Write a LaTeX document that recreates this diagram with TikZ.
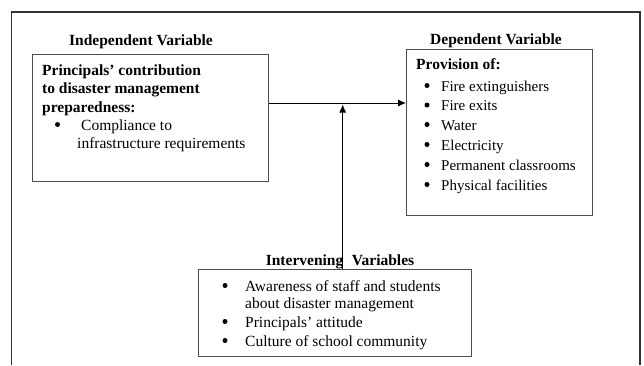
\documentclass[tikz,border=0pt]{standalone}
\usepackage{fontspec}
\setmainfont{Liberation Serif}
\usetikzlibrary{arrows.meta,calc}
\begin{document}
\begin{tikzpicture}[x=1pt,y=-1pt,
  box/.style={draw=black!70,line width=0.9pt,inner sep=0,anchor=north west},
  txt/.style={inner sep=0,anchor=base west,font=\fontsize{15.5}{18}\selectfont},
  txtd/.style={inner sep=0,anchor=base west,font=\fontsize{15}{18}\selectfont},
  bld/.style={inner sep=0,anchor=base west,font=\fontsize{15.5}{18}\selectfont\bfseries},
  ttl/.style={inner sep=0,anchor=base,font=\fontsize{15.5}{18}\selectfont\bfseries},
  dot/.style={circle,fill=black,inner sep=0,minimum size=5pt},
  conn/.style={line width=0.9pt,-{Latex[length=8pt,width=7pt]}}]
\useasboundingbox (0,0) rectangle (644,365);
% outer frame
\draw[line width=1.1pt,black!80] (11.5,365) -- (11.5,12) -- (640,12) -- (640,365);
% boxes
\node[box,minimum width=236.5pt,minimum height=127pt] (indep) at (31.5,54) {};
\node[box,minimum width=186pt,minimum height=166pt] (dep) at (406,49) {};
\node[box,minimum width=273pt,minimum height=87pt] (interv) at (198,269) {};
% titles
\node[ttl] (tI) at (141,45) {Independent Variable};
\node[ttl] (tD) at (496,44) {Dependent Variable};
\node[ttl] (tV) at (340,265) {Intervening\hspace{0.55em}Variables};
% independent box text
\node[bld] (i1) at (42,75) {Principals’ contribution};
\node[bld] (i2) at (42,93.5) {to disaster management};
\node[bld] (i3) at (42,112) {preparedness:};
\node[dot] (ib) at (57.5,124.5) {};
\node[txt] (i4) at (81,130) {Compliance to};
\node[txt] (i5) at (77,148) {infrastructure requirements};
% dependent box text
\node[bld] (d0) at (416,69) {Provision of:};
\node[dot] (db1) at (427,85.5) {};
\node[txtd] (d1) at (441,91) {Fire extinguishers};
\node[dot] (db2) at (427,105) {};
\node[txtd] (d2) at (441,110.5) {Fire exits};
\node[dot] (db3) at (427,124.5) {};
\node[txtd] (d3) at (441,130) {Water};
\node[dot] (db4) at (427,144.5) {};
\node[txtd] (d4) at (441,150) {Electricity};
\node[dot] (db5) at (427,164.5) {};
\node[txtd] (d5) at (441,170) {Permanent classrooms};
\node[dot] (db6) at (427,184.5) {};
\node[txtd] (d6) at (441,190) {Physical facilities};
% intervening box text
\node[dot] (vb1) at (225,285.5) {};
\node[txt] (v1) at (245,291) {Awareness of staff and students};
\node[txt] (v2) at (245,308) {about disaster management};
\node[dot] (vb3) at (225,321.5) {};
\node[txt] (v3) at (245,327) {Principals’ attitude};
\node[dot] (vb4) at (225,340.5) {};
\node[txt] (v4) at (245,346) {Culture of school community};
% connectors
\path (indep.north east) ++(0,49) coordinate (jL);
\path (jL -| dep.west) coordinate (jR);
\draw[conn] (jL) -- (jR);
\path (interv.north west) ++(144.7,0) coordinate (vB);
\path (vB) ++(0,-164.5) coordinate (vT);
\draw[conn] (vB) -- (vT);
\end{tikzpicture}
\end{document}
